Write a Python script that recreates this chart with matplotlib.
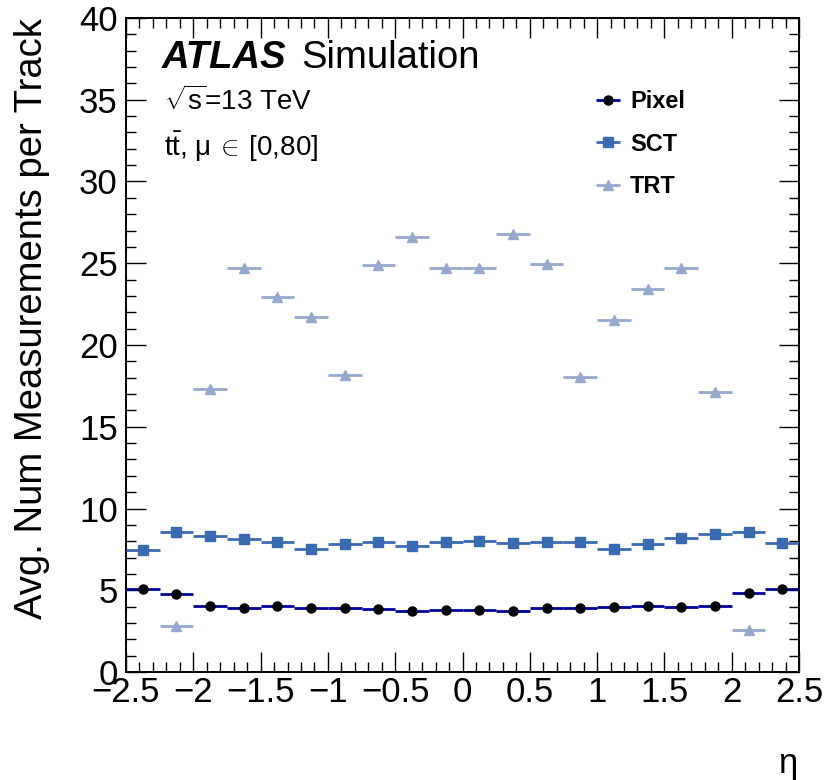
import numpy as np
import matplotlib
matplotlib.use("Agg")
import matplotlib.pyplot as plt
from matplotlib.ticker import MultipleLocator, FuncFormatter

plt.rcParams["font.family"] = ["Liberation Sans", "DejaVu Sans"]
plt.rcParams["mathtext.fontset"] = "custom"
plt.rcParams["mathtext.rm"] = "Liberation Sans"
plt.rcParams["mathtext.it"] = "Liberation Sans:italic"

# bin centres in eta (20 bins of width 0.25)
eta = [-2.375, -2.125, -1.875, -1.625, -1.375, -1.125, -0.875, -0.625, -0.375, -0.125,
       0.125, 0.375, 0.625, 0.875, 1.125, 1.375, 1.625, 1.875, 2.125, 2.375]
half_width = 0.125

pixel = [5.08, 4.78, 4.03, 3.93, 4.01, 3.93, 3.93, 3.87, 3.72, 3.82,
         3.82, 3.74, 3.90, 3.93, 3.96, 4.03, 3.96, 4.05, 4.82, 5.06]
sct = [7.46, 8.58, 8.32, 8.11, 7.97, 7.50, 7.85, 7.97, 7.71, 7.97,
       8.01, 7.89, 7.97, 7.95, 7.50, 7.83, 8.19, 8.46, 8.56, 7.91]
trt = [np.nan, 2.80, 17.30, 24.74, 22.93, 21.73, 18.15, 24.88, 26.59, 24.70,
       24.74, 26.81, 24.94, 18.03, 21.51, 23.44, 24.74, 17.13, 2.56, np.nan]

W, H = 827, 780
fig = plt.figure(figsize=(W / 100, H / 100), dpi=100)
ax = fig.add_axes([126 / W, 1 - 672 / H, (799 - 126) / W, (672 - 18) / H])

e_trt = ax.errorbar(eta, trt, xerr=half_width, fmt="^", ms=7.5, color="#95a8cd",
                    ecolor="#95a8cd", elinewidth=2.0, capsize=0, label="TRT", zorder=2)
e_sct = ax.errorbar(eta, sct, xerr=half_width, fmt="s", ms=6.8, color="#3a6ab0",
                    ecolor="#3a6ab0", elinewidth=2.0, capsize=0, label="SCT", zorder=3)
e_pix = ax.errorbar(eta, pixel, xerr=half_width, fmt="o", ms=6.5, color="black",
                    ecolor="#000099", elinewidth=2.0, capsize=0, label="Pixel", zorder=4)

ax.set_xlim(-2.5, 2.5)
ax.set_ylim(0, 40)
ax.xaxis.set_major_locator(MultipleLocator(0.5))
ax.xaxis.set_minor_locator(MultipleLocator(0.1))
ax.yaxis.set_major_locator(MultipleLocator(5))
ax.yaxis.set_minor_locator(MultipleLocator(1))
ax.xaxis.set_major_formatter(FuncFormatter(lambda v, p: f"{v:g}".replace("-", "\u2212")))
ax.tick_params(which="both", direction="in", top=True, right=True, width=1.0, labelsize=25)
ax.tick_params(which="major", length=14.4)
ax.tick_params(which="minor", length=7.2)
ax.tick_params(axis="x", pad=3)
ax.tick_params(axis="y", pad=6)
for s in ax.spines.values():
    s.set_linewidth(1.4)

ax.set_ylabel("Avg. Num Measurements per Track", fontsize=27.5, ha="right")
ax.yaxis.set_label_coords(-0.113, 1.0)
fig.text(788 / W, 1 - 763 / H, "η", fontsize=25, ha="center", va="center")

# ATLAS label block
tx = ax.transAxes
ax.text(0.053, 0.9235, "ATLAS", fontsize=27.5, fontweight="bold", style="italic",
        transform=tx, va="baseline")
ax.text(0.26, 0.9235, "Simulation", fontsize=27.5, transform=tx, va="baseline")
ax.text(0.056, 0.860, r"$\sqrt{\mathrm{s}}$=13 TeV", fontsize=20, transform=tx, va="baseline")
ax.text(0.056, 0.789, r"$\mathrm{t\bar{t}}$, μ$\:\in\:$[0,80]", fontsize=20, transform=tx,
        va="baseline")

ax.legend([e_pix, e_sct, e_trt], ["Pixel", "SCT", "TRT"], loc="upper left",
          bbox_to_anchor=(593 / W, 1 - 90 / H), bbox_transform=fig.transFigure,
          frameon=False, prop={"weight": "bold", "size": 17}, handlelength=1.27,
          handletextpad=0.3, labelspacing=0.83, borderpad=0, borderaxespad=0)

fig.savefig("out.png", dpi=100)
